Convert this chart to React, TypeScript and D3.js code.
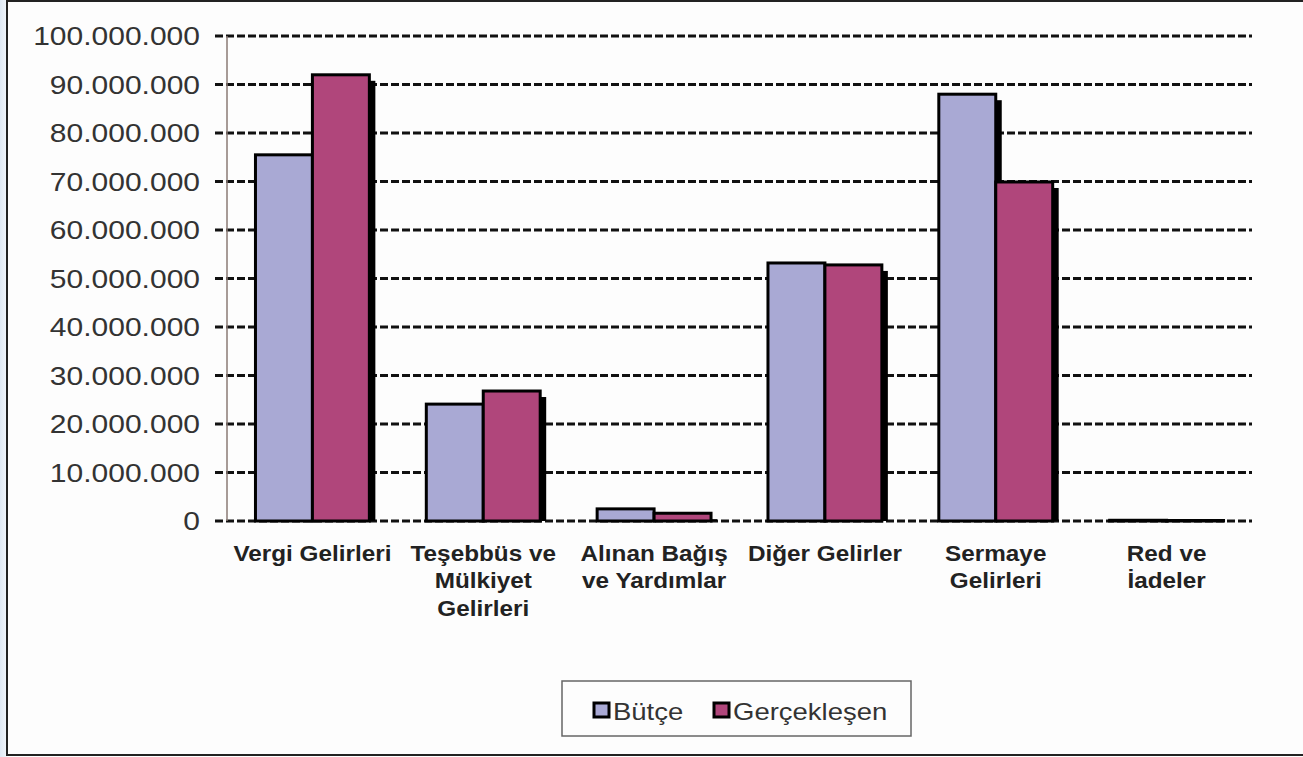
import React from "react";
import * as d3 from "d3";

const categories: string[][] = [
  ["Vergi Gelirleri"],
  ["Teşebbüs ve", "Mülkiyet", "Gelirleri"],
  ["Alınan Bağış", "ve Yardımlar"],
  ["Diğer Gelirler"],
  ["Sermaye", "Gelirleri"],
  ["Red ve", "İadeler"],
];
const butce: number[] = [75500000, 24100000, 2500000, 53200000, 88000000, 150000];
const gerceklesen: number[] = [92000000, 26800000, 1600000, 52800000, 69900000, 100000];
const seriesNames = ["Bütçe", "Gerçekleşen"];
const seriesColors = ["#a9a9d4", "#b0467b"];
const yTicks: number[] = [0, 10000000, 20000000, 30000000, 40000000, 50000000, 60000000, 70000000, 80000000, 90000000, 100000000];

const fmt = (v: number) => (v === 0 ? "0" : d3.format(",")(v).replace(/,/g, "."));

export default function App() {
  const W = 1303, H = 757;
  const left = 227, right = 1252, top = 36, bottom = 521;
  const x = d3.scaleBand<number>().domain(d3.range(categories.length)).range([left, right]).paddingInner(0).paddingOuter(0);
  const y = d3.scaleLinear().domain([0, 100000000]).range([bottom, top]);
  const gw = x.bandwidth();
  const barW = gw / 3;
  const series = [butce, gerceklesen];
  const font = "Arial, 'Liberation Sans', sans-serif";

  return (
    <svg width={W} height={H} style={{ position: "absolute", left: 0, top: 0 }}>
      <defs>
        <linearGradient id="bg" x1="0" x2="1" y1="0" y2="0">
          <stop offset="0" stopColor="#dfe9f4" />
          <stop offset="1" stopColor="#f4f8fc" />
        </linearGradient>
      </defs>
      <rect x={0} y={0} width={W} height={H} fill="#ffffff" />
      <rect x={0} y={0} width={8} height={H} fill="url(#bg)" />
      <rect x={7} y={1} width={W + 20} height={754} fill="#fdfdfd" stroke="#222" strokeWidth={2} />
      {/* gridlines */}
      {yTicks.map((t) => (
        <line key={t} x1={left - 12} x2={right} y1={y(t)} y2={y(t)} stroke="#111" strokeWidth={3} strokeDasharray="8 3" />
      ))}
      <line x1={left} x2={left} y1={top} y2={bottom} stroke="#8a7a74" strokeWidth={1.5} />
      {yTicks.map((t) => (
        <text key={"l" + t} transform={`translate(200,${y(t)}) scale(1.2,1)`} dy="0.36em" textAnchor="end" fontFamily={font} fontSize={25} fill="#333">
          {fmt(t)}
        </text>
      ))}
      {/* shadows */}
      {categories.map((_, i) =>
        series.map((s, j) => {
          const bx = (x(i) as number) + barW / 2 + j * barW;
          const h = Math.max(bottom - y(s[i]), 0);
          return <rect key={`s${i}${j}`} x={bx + 6} y={y(s[i]) + 6} width={barW} height={Math.max(h - 6, 0)} fill="#000" />;
        })
      )}
      {/* bars */}
      {categories.map((_, i) =>
        series.map((s, j) => {
          const bx = (x(i) as number) + barW / 2 + j * barW;
          return (
            <rect key={`b${i}${j}`} x={bx} y={y(s[i])} width={barW} height={bottom - y(s[i])} fill={seriesColors[j]} stroke="#000" strokeWidth={3} />
          );
        })
      )}
      {/* category labels */}
      {categories.map((lines, i) => (
        <g key={"c" + i} transform={`translate(${(x(i) as number) + gw / 2},0) scale(1.13,1)`}>
          <text textAnchor="middle" fontFamily={font} fontWeight="bold" fontSize={21.5} fill="#222">
            {lines.map((ln, k) => (
              <tspan key={k} x={0} y={561 + k * 27.5}>
                {ln}
              </tspan>
            ))}
          </text>
        </g>
      ))}
      {/* legend */}
      <rect x={562} y={681} width={349} height={55} fill="#fdfdfd" stroke="#666" strokeWidth={1.5} />
      {seriesNames.map((n, j) => {
        const lx = j === 0 ? 594 : 714;
        return (
          <g key={n}>
            <rect x={lx} y={703} width={15} height={14} fill={seriesColors[j]} stroke="#000" strokeWidth={3} />
            <g transform={`translate(${lx + 19},720) scale(1.17,1)`}>
              <text x={0} y={0} fontFamily={font} fontSize={23.5} fill="#333">
                {n}
              </text>
            </g>
          </g>
        );
      })}
    </svg>
  );
}
